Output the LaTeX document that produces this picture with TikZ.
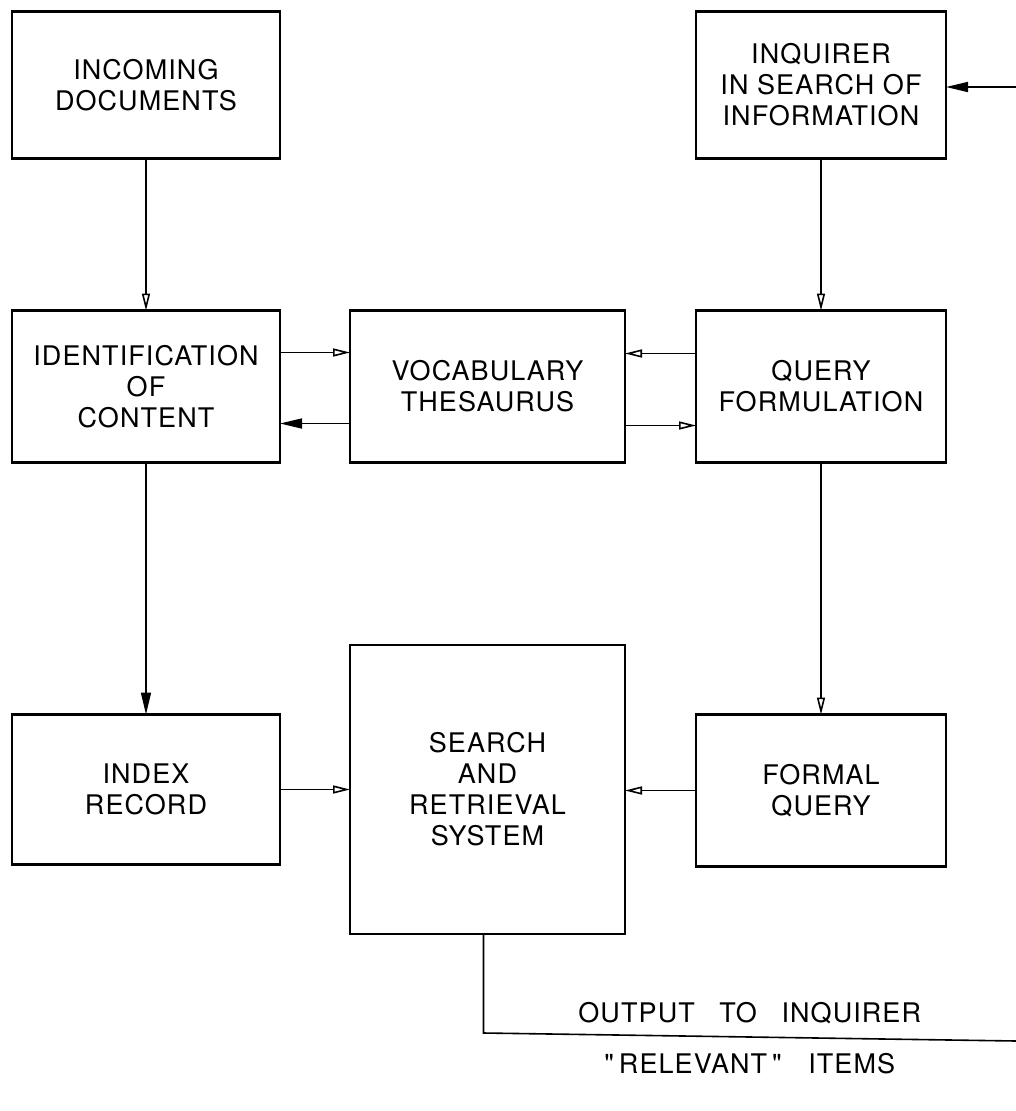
\documentclass[tikz,border=0pt]{standalone}
\usepackage{fontspec}
\setmainfont{TeX Gyre Heros}[LetterSpace=4]
\usetikzlibrary{positioning,arrows.meta}
\tikzset{
  fig/.style={font=\fontsize{27}{31}\selectfont},
  box/.style={draw,line width=2.4pt,align=center,inner sep=2pt,outer sep=0pt},
  ln/.style={-{Triangle[open,length=17pt,width=8pt]},line width=1.6pt},
  lnf/.style={-{Triangle[length=22pt,width=10pt]},line width=1.6pt},
  lbl/.style={inner sep=2pt},
}

\begin{document}
\begin{tikzpicture}[fig,x=1pt,y=1pt,
  lbox/.style={box,minimum width=268pt},
  mbox/.style={box,minimum width=275pt},
  rbox/.style={box,minimum width=250pt}]
\useasboundingbox (0,0) rectangle (1016,-1111);

\node[lbox,minimum height=147pt] (docs) at (146,-85) {INCOMING\\DOCUMENTS};
\node[lbox,minimum height=152pt,below=152pt of docs] (ident) {IDENTIFICATION\\OF\\CONTENT};
\node[lbox,minimum height=150pt,below=252pt of ident] (index) {INDEX\\RECORD};
\node[mbox,minimum height=152pt,right=70pt of ident] (thes) {VOCABULARY\\THESAURUS};
\node[rbox,minimum height=152pt,right=71pt of thes] (query) {QUERY\\FORMULATION};
\node[rbox,minimum height=147pt,above=152pt of query] (inq) {INQUIRER\\IN SEARCH OF\\INFORMATION};
\node[rbox,minimum height=152pt,below=252pt of query] (formal) {FORMAL\\QUERY};
\node[mbox,minimum height=289pt,right=70pt of index] (search) {SEARCH\\AND\\RETRIEVAL\\SYSTEM};

\coordinate (fbin) at (1016,-87);
\coordinate (outend) at (1016,-1041);

\draw[ln] (docs) -- (ident);
\draw[ln] (inq) -- (query);
\draw[ln] ([yshift=34pt]ident.east) -- ([yshift=34pt]ident.east -| thes.west);
\draw[lnf] ([yshift=-37pt]thes.west) -- ([yshift=-37pt]thes.west -| ident.east);
\draw[ln] ([yshift=33pt]query.west) -- ([yshift=33pt]query.west -| thes.east);
\draw[ln] ([yshift=-39pt]thes.east) -- ([yshift=-39pt]thes.east -| query.west);
\draw[lnf] (ident) -- (index);
\draw[ln] (query) -- (formal);
\draw[ln] (index.east) -- (index.east -| search.west);
\draw[ln] (formal.west) -- (formal.west -| search.east);
\draw[lnf] (fbin) -- (fbin -| inq.east);

\draw[line width=1.6pt] ([xshift=-4pt]search.south) -- ++(0,-99)
  -- node[lbl,above=10pt]{OUTPUT\hspace{16pt} TO\hspace{16pt} INQUIRER}
     node[lbl,below=14pt]{\textquotedbl\hspace{5pt}RELEVANT\hspace{5pt}\textquotedbl\hspace{18pt} ITEMS} (outend);

\end{tikzpicture}
\end{document}
